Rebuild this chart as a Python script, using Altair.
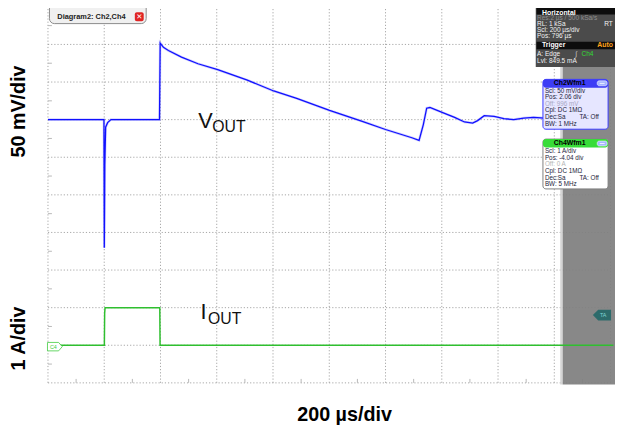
import altair as alt
import pandas as pd

# ---------------- data ----------------
# VOUT trace: time in µs, deviation from baseline in mV (50 mV/div)
vout_t_us = [0, 199, 200.3, 202, 205, 212, 224, 396.5, 398.9, 410.5, 428.1, 474.7,
             533.3, 603.5, 708.8, 802.5, 884.2, 1001, 1117.2, 1200, 1293.7, 1319.3,
             1334.4, 1346.3, 1357.9, 1398.9, 1445.6, 1480.7, 1509.8, 1527.4, 1550.9,
             1586, 1621, 1656, 1691.2, 1726.3, 1765]
vout_mv = [0, 0, -170.5, -60, -10, -4, 0, 0, 101.8, 96.2, 91.9, 83.1,
           74.3, 66.4, 52.5, 38.1, 28.3, 12.2, -2.2, -13.1, -24.1, -27.6,
           -6.6, 15.2, 16.1, 10.0, 3.0, -3.1, -4.5, -1.3, 5.2,
           4.3, 1.3, 0, 2.1, 3.0, 2.1]
# IOUT trace: time in µs, current step in A (1 A/div)
iout_t_us = [0, 200.5, 201.5, 203, 397.5, 398.5, 2010]
iout_a = [0, 0, 0.85, 1.0, 1.0, 0, 0]

VOUT_MV_PER_DIV = 50
VOUT_BASE_DIV = 7
IOUT_A_PER_DIV = 1
IOUT_BASE_DIV = 1

x_div_labels = list(range(11))
y_div_labels = list(range(11))
US_PER_DIV = 200

# ---------------- layout / scales ----------------
W, H = 615, 426
X0_PX = 40.5          # svg x of t = 0
PX_PER_US = 57 / 200
Y0_PX = 377           # svg y of division 0 (bottom of grid)
PX_PER_DIV = 38.1

XS = alt.Scale(domain=[-X0_PX / PX_PER_US, (W - X0_PX) / PX_PER_US], nice=False, zero=False)
YS = alt.Scale(domain=[-(H - Y0_PX) / PX_PER_DIV, Y0_PX / PX_PER_DIV], nice=False, zero=False)


def tx(px):
    return (px - 8 - X0_PX) / PX_PER_US


def dy(py):
    return (Y0_PX - (py - 8)) / PX_PER_DIV


def X(f):
    return alt.X(f, type="quantitative", scale=XS, axis=None)


def Y(f):
    return alt.Y(f, type="quantitative", scale=YS, axis=None)


GRID = "#a6a6a6"

# grid
gv = pd.DataFrame({"t": [US_PER_DIV * k for k in x_div_labels], "y0": 0, "y1": 10})
gh = pd.DataFrame({"d": y_div_labels, "t0": 0, "t1": 2000})
grid_v = alt.Chart(gv).mark_rule(color=GRID, strokeWidth=1, strokeDash=[1.2, 2]).encode(
    x=X("t"), y=Y("y0"), y2="y1")
grid_h = alt.Chart(gh).mark_rule(color=GRID, strokeWidth=1, strokeDash=[1.2, 2]).encode(
    y=Y("d"), x=X("t0"), x2="t1")

ml = pd.DataFrame({"d": [k + 0.5 for k in range(10)], "t0": 0, "t1": 4 / PX_PER_US})
mb = pd.DataFrame({"t": [US_PER_DIV * k + 100 for k in range(10)], "y0": 0, "y1": 4 / PX_PER_DIV})
minor_l = alt.Chart(ml).mark_rule(color="#b8b8b8", strokeWidth=1).encode(
    y=Y("d"), x=X("t0"), x2="t1")
minor_b = alt.Chart(mb).mark_rule(color="#b8b8b8", strokeWidth=1).encode(
    x=X("t"), y=Y("y0"), y2="y1")


def rects(rows, **kw):
    df = pd.DataFrame(rows, columns=["px0", "py0", "px1", "py1", "fill"])
    df["t0"] = df.px0.map(tx)
    df["t1"] = df.px1.map(tx)
    df["d0"] = df.py0.map(dy)
    df["d1"] = df.py1.map(dy)
    return alt.Chart(df).mark_rect(**kw).encode(
        x=X("t0"), x2="t1", y=Y("d0"), y2="d1", fill=alt.Fill("fill:N", scale=None))


def texts(rows, size, weight="normal", align="left", baseline="middle",
          font="Liberation Sans", angle=0):
    df = pd.DataFrame(rows, columns=["px", "py", "text", "color"])
    df["t"] = df.px.map(tx)
    df["d"] = df.py.map(dy)
    kw = dict(fontSize=size, fontWeight=weight, align=align, baseline=baseline, font=font)
    if angle:
        kw["angle"] = angle
    return alt.Chart(df).mark_text(**kw).encode(
        x=X("t"), y=Y("d"), text="text:N", color=alt.Color("color:N", scale=None))


# side panel
panel = rects([
    (567.5, 386.7, 570, 0, "#d2d2d2"),
    (570, 386.7, 640, 0, "#7f7f7f"),
], opacity=0.93)

# traces
vdf = pd.DataFrame({"t": vout_t_us, "mv": vout_mv})
vdf["d"] = VOUT_BASE_DIV + vdf.mv / VOUT_MV_PER_DIV
vdf["i"] = range(len(vdf))
idf = pd.DataFrame({"t": iout_t_us, "a": iout_a})
idf["d"] = IOUT_BASE_DIV + idf.a / IOUT_A_PER_DIV
idf["i"] = range(len(idf))

green = alt.Chart(idf).mark_line(color="#2fbf2f", strokeWidth=1.5).encode(
    x=X("t"), y=Y("d"), order="i:Q")
blue_halo = alt.Chart(vdf).mark_line(color="#9a9aff", strokeWidth=2.6, opacity=0.45).encode(
    x=X("t"), y=Y("d"), order="i:Q")
blue = alt.Chart(vdf).mark_line(color="#1010ff", strokeWidth=1.3).encode(
    x=X("t"), y=Y("d"), order="i:Q")

# trace labels
lab_big = texts([(200.7, 126.7, "V", "#111111"), (203, 320.7, "I", "#111111")],
                22, baseline="alphabetic")
lab_sub = texts([(215, 130.7, "OUT", "#111111"), (210.7, 325, "OUT", "#111111")],
                16, baseline="alphabetic")

# markers
c4_shape = "M-1,-0.57 L0.5,-0.57 L1,0 L0.5,0.57 L-1,0.57 Z"
ta_shape = "M1,-0.55 L-0.45,-0.55 L-1,0 L-0.45,0.55 L1,0.55 Z"
mk = pd.DataFrame({"t": [tx(55.5)], "d": [dy(348.3)]})
c4 = alt.Chart(mk).mark_point(shape=c4_shape, size=225, filled=True, fill="white",
                              stroke="#40cc40", strokeWidth=0.8, opacity=1).encode(x=X("t"), y=Y("d"))
mk2 = pd.DataFrame({"t": [tx(610)], "d": [dy(316.3)]})
ta = alt.Chart(mk2).mark_point(shape=ta_shape, size=256, filled=True, fill="#2d6b6b",
                               stroke="#2d6b6b", opacity=1).encode(x=X("t"), y=Y("d"))
mk_txt = texts([(54, 348.4, "C4", "#40cc40"), (611, 316.5, "TA", "#7fd4d4")], 5.5, align="center")

# Horizontal / trigger box
hbox = rects([
    (542.7, 65, 640, 0, "#4b4b4b"),
    (543.5, 11.8, 640, 0, "#0d0d0d"),
    (543.5, 47, 640, 39.3, "#0d0d0d"),
])
UI = "Liberation Sans"
h_bold = texts([(549, 9.9, "Horizontal", "#ffffff"), (549, 43.2, "Trigger", "#ffffff")],
               7, weight="bold", font=UI)
h_auto = texts([(605, 43.2, "Auto", "#ffa31a")], 7, weight="bold", font=UI)
h_txt = texts([
    (544, 15.6, "Res:2 µs / 500 kSa/s", "#8e8e8e"),
    (544, 21.4, "RL:  1 kSa", "#f2f2f2"),
    (612, 21.4, "RT", "#f2f2f2"),
    (544, 27.6, "Scl: 200 µs/div", "#f2f2f2"),
    (544, 33.9, "Pos: 796 µs", "#f2f2f2"),
    (544, 52.3, "A:   Edge", "#f2f2f2"),
    (583, 52.3, "∫", "#d0d0d0"),
    (589, 52.3, "Ch4", "#33dd33"),
    (544, 59.3, "Lvl: 849.5 mA", "#f2f2f2"),
], 6.6, font=UI)

# channel boxes
ch_bodies = rects([
    (550, 128, 616, 77.5, "#e6e6ff"),
], stroke="#3a3aff", strokeWidth=1, cornerRadius=3)
ch4_body = rects([
    (550, 188.5, 616, 138, "#ffffff"),
], stroke="#808080", strokeWidth=1, cornerRadius=3)
ch_heads = rects([
    (550, 86, 616, 77.5, "#3d3df5"),
    (550, 146.5, 616, 138, "#38dc38"),
], cornerRadius=3)
ch_icons = rects([
    (605, 84, 615, 79, "#a6b6ff"),
    (605, 145, 615, 140, "#a6b6ff"),
], cornerRadius=2, stroke="#ffffff", strokeWidth=0.6)
icon_dash = rects([
    (607.5, 81.9, 612.5, 81.1, "#ffffff"),
    (607.5, 142.9, 612.5, 142.1, "#ffffff"),
])
ch_titles = texts([(577, 81.5, "Ch2Wfm1", "#000000"), (577, 142.1, "Ch4Wfm1", "#000000")],
                  7, weight="bold", align="center", font=UI)
BODY = "#1c1c3a"
OFF = "#a8a8c4"
ch_txt = texts([
    (552, 89.3, "Scl: 50 mV/div", BODY),
    (552, 95.8, "Pos: 2.06 div", BODY),
    (552, 102.3, "Off: 996 mV", OFF),
    (552, 109, "Cpl: DC 1MΩ", BODY),
    (552, 115.8, "Dec:Sa", BODY),
    (587, 115.8, "TA: Off", BODY),
    (552, 122.5, "BW: 1 MHz", BODY),
    (552, 150.3, "Scl: 1 A/div", BODY),
    (552, 156.9, "Pos: -4.04 div", BODY),
    (552, 163.7, "Off: 0 A", "#b4b4b4"),
    (552, 170.5, "Cpl: DC 1MΩ", BODY),
    (552, 177.3, "Dec:Sa", BODY),
    (587, 177.3, "TA: Off", BODY),
    (552, 184, "BW: 5 MHz", BODY),
], 6.4, font=UI)

# diagram tab
tab = rects([(50, 21, 148, 0, "#f0f0f0")], stroke="#8a8a8a", strokeWidth=1, cornerRadius=5)
close_btn = rects([(136.5, 18.5, 145.5, 9.5, "#e02424")], cornerRadius=2)
tab_txt = texts([(58, 14.2, "Diagram2: Ch2,Ch4", "#222222")], 7.5, weight="bold", font=UI)
close_x = texts([(141, 14.2, "✕", "#ffffff")], 7.5, weight="bold", align="center", font="DejaVu Sans")

# axis titles
x_title = texts([(349, 424, "200 µs/div", "#000000")], 20, weight="bold", align="center",
                baseline="alphabetic")
y_titles = texts([(25.5, 110, "50 mV/div", "#000000"), (25.5, 340, "1 A/div", "#000000")],
                 20, weight="bold", align="center", baseline="alphabetic", angle=270)

chart = alt.layer(
    grid_v, grid_h, minor_l, minor_b, panel,
    blue_halo, blue, green,
    lab_big, lab_sub,
    c4, ta, mk_txt,
    hbox, h_bold, h_auto, h_txt,
    ch_bodies, ch4_body, ch_heads, ch_icons, icon_dash, ch_titles, ch_txt,
    tab, close_btn, tab_txt, close_x,
    x_title, y_titles,
).properties(
    width=W, height=H, padding=0, autosize=alt.AutoSizeParams(type="none"),
    background="white",
).configure_view(stroke=None)

chart.save("out.html", embed_options={"renderer": "svg", "actions": False})
